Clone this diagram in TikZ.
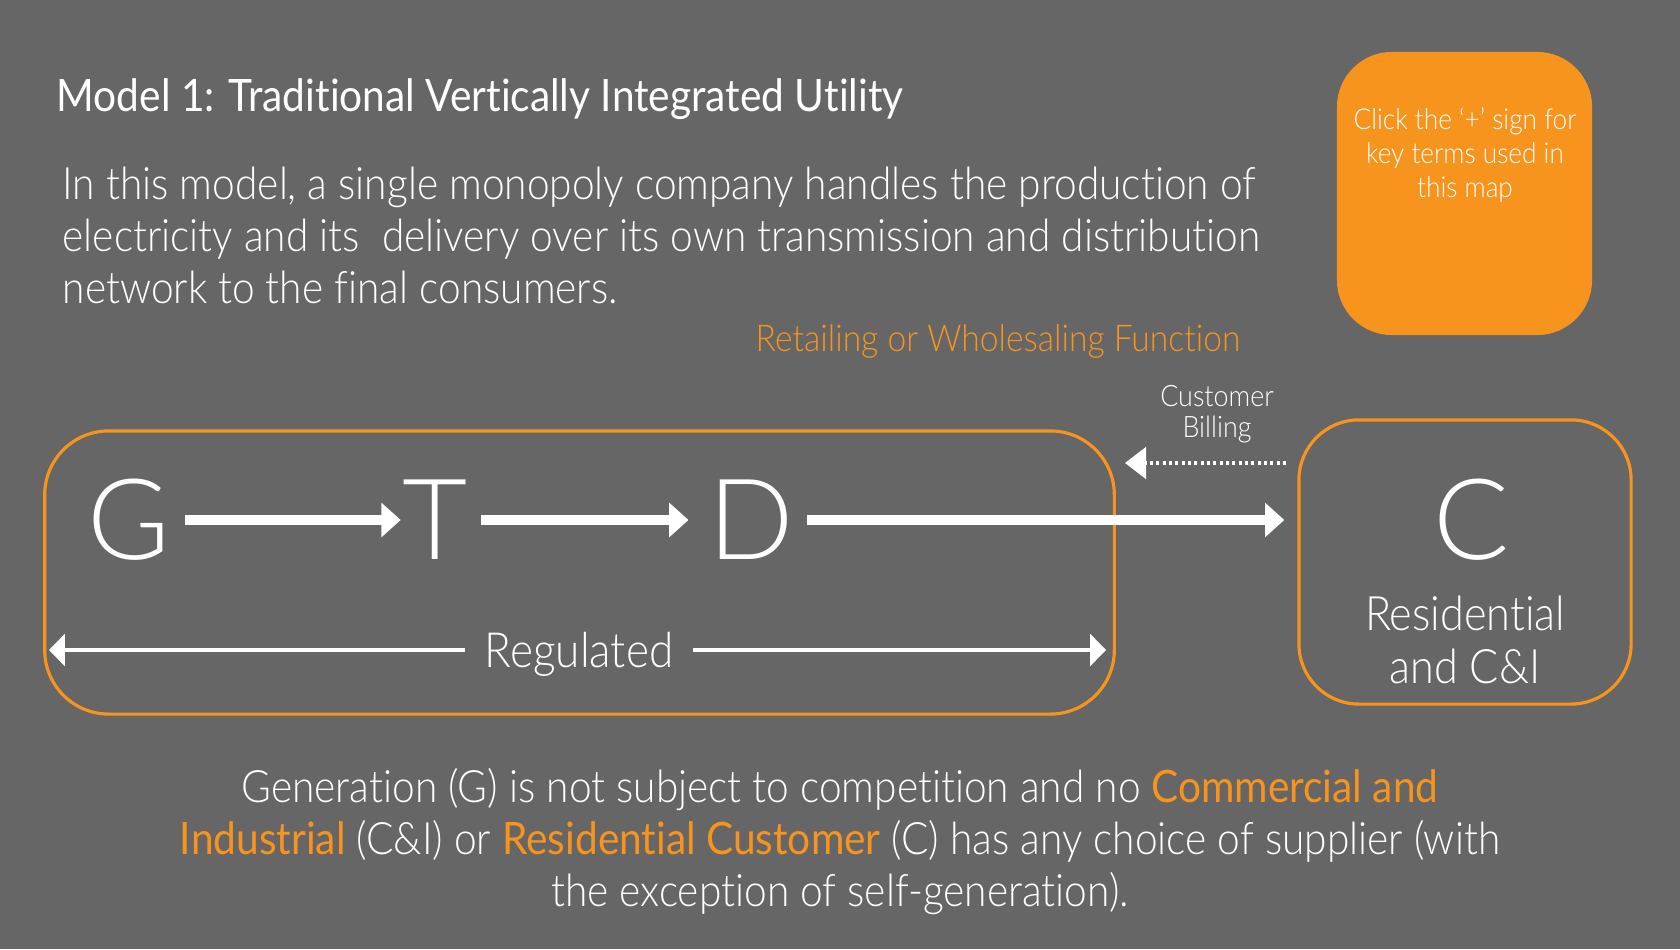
\documentclass[tikz,border=0pt]{standalone}
\usepackage{fontspec}
\setmainfont{Lato Light}[FakeStretch=0.91, Ligatures=NoCommon]
\newfontfamily\medfont{Lato}[FakeStretch=0.91, Ligatures=NoCommon]
\newfontfamily\roundfont{Lato Light}
\usetikzlibrary{arrows.meta, positioning}

\definecolor{slate}{HTML}{666666}
\definecolor{amber}{HTML}{F7941D}

\tikzset{
  flow/.style={white, line width=3.1pt, -{Triangle[length=5.5pt, width=9.5pt]}},
  span/.style={white, line width=0.9pt, -{Triangle[length=4.5pt, width=9pt]}},
  frame/.style={draw=amber, line width=0.9pt},
  letter/.style={white, inner sep=0pt, font=\roundfont\fontsize{32}{32}\selectfont},
  body/.style={white, inner sep=0pt, font=\fontsize{12.7}{14.8}\selectfont},
}
\newcommand{\hl}[1]{{\medfont\color{amber}#1}}

\begin{document}
\begin{tikzpicture}[x=0.01cm, y=-0.01cm]

  % === Background (also fixes the page size)
  \fill[slate] (0,0) rectangle (1680,949);

  % === Heading and introduction
  \node[white, inner sep=0pt, anchor=base west, font=\medfont\fontsize{12.7}{14.5}\selectfont]
    (title) at (56,112) {Model 1: Traditional Vertically Integrated Utility};
  \node[body, anchor=north west, align=left] (intro) at (62,166)
    {In this model, a single monopoly company handles the production of\\
     electricity and its\ \ delivery over its own transmission and distribution\\
     network to the final consumers.};

  % Key box
  \node[fill=amber, rounded corners=0.55cm, minimum width=2.55cm, minimum height=2.83cm]
    (keybox) at (1464.5,193.5) {};
  \node[white, align=center, font=\fontsize{8.2}{9.7}\selectfont] (keytext) at (1465,155)
    {Click the ‘+’ sign for\\ key terms used in\\ this map};

  \node[amber, font=\fontsize{10.5}{12}\selectfont] (retail) at (998,341)
    {Retailing or Wholesaling Function};

  % === Frames
  \node[frame, rounded corners=0.64cm, minimum width=10.69cm, minimum height=2.83cm]
    (utility) at (579.5,572.5) {};
  \node[frame, rounded corners=0.6cm, minimum width=3.32cm, minimum height=2.84cm]
    (cust) at (1465,562) {};

  % === Supply chain
  \node[letter] (G) at (129,520) {G};
  \node[letter] (T) at (435,520) {T};
  \node[letter] (D) at (751,520) {D};
  \node[letter] (C) at (1472,520) {C};

  \draw[flow, shorten <=0.14cm, shorten >=0.01cm] (G.east) -- (T.west);
  \draw[flow, shorten <=0.13cm, shorten >=0.19cm] (T.east) -- (D.west);
  \draw[flow, shorten <=0.13cm, shorten >=0.13cm] (D.east) -- (D.east -| cust.west);

  \node[white, align=center, font=\fontsize{13.5}{15.3}\selectfont] (custtext) at (1465,640)
    {Residential\\ and C\&I};

  % Billing goes back
  \coordinate (billR) at (1286,463);
  \coordinate (billL) at (1125,463);
  \draw[white, line width=0.9pt, dash pattern=on 0.9pt off 0.9pt,
    -{Triangle[length=6pt, width=9pt]}] (billR) -- (billL);
  \node[white, align=center, font=\fontsize{8.4}{8.8}\selectfont] (billing) at (1217,414)
    {Customer\\ Billing};

  % === Regulated span
  \coordinate (regL) at (49,650);
  \coordinate (regR) at (1106,650);
  \node[white, inner xsep=0.19cm, inner ysep=0pt, anchor=base,
    font=\fontsize{13.8}{14.5}\selectfont] (reg) at (579,667) {Regulated};
  \draw[span] (reg.west |- regL) -- (regL);
  \draw[span] (reg.east |- regR) -- (regR);

  % === Footnote
  \node[body, anchor=north, align=center] (note) at (840,768)
    {Generation (G) is not subject to competition and no \hl{Commercial and}\\
     \hl{Industrial} (C\&I) or \hl{Residential Customer} (C) has any choice of supplier (with\\
     the exception of self-generation).};

\end{tikzpicture}
\end{document}
